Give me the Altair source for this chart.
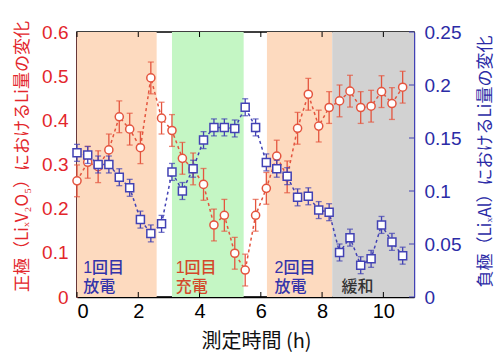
import altair as alt
import pandas as pd

# ---- data ----
time_h = [0.0, 0.35, 0.69, 1.04, 1.38, 1.72, 2.07, 2.41, 2.76, 3.1, 3.44, 3.79,
          4.13, 4.47, 4.81, 5.15, 5.49, 5.83, 6.18, 6.52, 6.86, 7.2, 7.55, 7.89,
          8.23, 8.57, 8.91, 9.26, 9.6, 9.94, 10.28, 10.63]
cathode = [0.263, 0.305, 0.295, 0.333, 0.408, 0.380, 0.338, 0.496, 0.405, 0.377, 0.314, 0.290,
           0.255, 0.163, 0.185, 0.099, 0.061, 0.185, 0.246, 0.319, 0.272, 0.382, 0.459, 0.387,
           0.429, 0.444, 0.466, 0.429, 0.432, 0.465, 0.438, 0.475]
anode = [0.136, 0.134, 0.125, 0.125, 0.113, 0.103, 0.073, 0.060, 0.069, 0.118, 0.100, 0.121,
         0.148, 0.160, 0.160, 0.159, 0.179, 0.160, 0.127, 0.121, 0.114, 0.094, 0.095, 0.082,
         0.080, 0.042, 0.056, 0.030, 0.036, 0.068, 0.052, 0.039]
cathode_err = 0.036
anode_err = 0.008

band_start = [0.0, 3.1, 6.2, 8.33]
band_end = [2.6, 5.44, 8.33, 11.0]
band_kind = ["放電", "充電", "放電", "緩和"]

label_t = [0.2, 0.2, 3.22, 3.22, 6.45, 6.45, 8.63]
label_v = [0.066, 0.022, 0.066, 0.022, 0.066, 0.022, 0.022]
label_text = ["1回目", "放電", "1回目", "充電", "2回目", "放電", "緩和"]
label_kind = ["放電", "放電", "充電", "充電", "放電", "放電", "緩和"]

x_ticks = [0, 2, 4, 6, 8, 10]
left_ticks = [0, 0.1, 0.2, 0.3, 0.4, 0.5, 0.6]
right_ticks = [0, 0.05, 0.1, 0.15, 0.2, 0.25]

W, H = 337, 265
RED = "#e3262b"
RED_M = "#e4553f"
BLUE = "#2b2ba6"
BLUE_M = "#4242b4"
FONT = "Liberation Sans"
JP = "Noto Sans CJK JP"
MIX = "Liberation Sans, Noto Sans CJK JP"

df = pd.DataFrame({"t": time_h, "c": cathode, "a": anode})
df["c_lo"] = df["c"] - cathode_err
df["c_hi"] = df["c"] + cathode_err
df["a_lo"] = df["a"] - anode_err
df["a_hi"] = df["a"] + anode_err

bands = pd.DataFrame({"s": band_start, "e": band_end, "k": band_kind})
labels = pd.DataFrame({"t": label_t, "v": label_v, "txt": label_text, "k": label_kind})
xt = pd.DataFrame({"t": x_ticks})
rt = pd.DataFrame({"v": right_ticks})

xscale = alt.Scale(domain=[0, 11], nice=False, zero=False)
lscale = alt.Scale(domain=[0, 0.6], nice=False)
rscale = alt.Scale(domain=[0, 0.25], nice=False)

x_axis = alt.Axis(values=x_ticks, ticks=False, domainColor="black", domainWidth=1.5,
                  labelFontSize=20, labelFont=FONT, labelColor="black", labelPadding=4,
                  grid=False, title="測定時間 (h)", titleFont=JP, titleFontSize=20,
                  titleFontWeight="normal", titleColor="#111", titleX=179, titleY=44,
                  titleBaseline="middle", titleAlign="center")
yl_axis = alt.Axis(values=left_ticks, ticks=False, domainColor=RED, domainWidth=1.5,
                   labelFontSize=19, labelFont=FONT, labelColor=RED, labelPadding=9,
                   labelExpr="datum.value == 0 ? '0' : format(datum.value, '.1f')",
                   grid=False, title="正極（LiₓV₂O₅）におけるLi量の変化", titleFont=JP,
                   titleFontSize=17, titleFontWeight="normal", titleColor=RED,
                   titleAngle=270, titleX=-55, titleY=124, titleBaseline="middle",
                   titleAlign="center")
yr_axis = alt.Axis(values=right_ticks, ticks=False, domainColor=BLUE_M, domainWidth=1.5,
                   labelFontSize=19, labelFont=FONT, labelColor=BLUE, labelPadding=10,
                   labelExpr="datum.value == 0 ? '0' : format(datum.value, '')",
                   grid=False, title="負極（LiₓAl）におけるLi量の変化", titleFont=JP,
                   titleFontSize=17, titleFontWeight="normal", titleColor=BLUE,
                   titleAngle=270, titleX=71, titleY=129, titleBaseline="middle",
                   titleAlign="center", orient="right")

X = lambda f: alt.X(f, type="quantitative", scale=xscale, axis=x_axis)

band_layer = alt.Chart(bands).mark_rect().encode(
    x=X("s"), x2="e",
    y=alt.value(0), y2=alt.value(H),
    color=alt.Color("k:N", scale=alt.Scale(domain=["放電", "充電", "緩和"],
                                           range=["#fddabf", "#c4f6c4", "#d2d2d2"]),
                    legend=None),
)

xtick_bottom = alt.Chart(xt).mark_rule(color="black", strokeWidth=1).encode(
    x=X("t"), y=alt.value(H), y2=alt.value(H - 5))
xtick_top = alt.Chart(xt).mark_rule(color="black", strokeWidth=1).encode(
    x=X("t"), y=alt.value(0), y2=alt.value(5))

YL = lambda f: alt.Y(f, type="quantitative", scale=lscale, axis=yl_axis)
YR = lambda f: alt.Y(f, type="quantitative", scale=rscale, axis=yr_axis)

base = alt.Chart(df)
red_line = base.mark_line(color=RED_M, strokeDash=[3, 3], strokeWidth=1.5).encode(
    x=X("t"), y=YL("c"))
red_err = base.mark_rule(color=RED_M, strokeWidth=1.3).encode(
    x=X("t"), y=YL("c_lo"), y2="c_hi")
red_cap_lo = base.mark_tick(color=RED_M, orient="horizontal", size=6, thickness=1.3).encode(
    x=X("t"), y=YL("c_lo"))
red_cap_hi = base.mark_tick(color=RED_M, orient="horizontal", size=6, thickness=1.3).encode(
    x=X("t"), y=YL("c_hi"))
red_pts = base.mark_point(shape="circle", size=66, filled=True, fill="white",
                          stroke=RED_M, strokeWidth=1.5, opacity=1).encode(
    x=X("t"), y=YL("c"))

text_layer = alt.Chart(labels).mark_text(font=MIX, fontSize=16, fontWeight=500,
                                         align="left", baseline="middle").encode(
    x=X("t"), y=YL("v"), text="txt:N",
    color=alt.Color("k:N", scale=alt.Scale(domain=["放電", "充電", "緩和"],
                                           range=["#3333aa", "#d4482a", "#333333"]),
                    legend=None),
)

left = alt.layer(band_layer, xtick_bottom, xtick_top, red_err, red_cap_lo, red_cap_hi,
                 red_line, red_pts, text_layer).resolve_scale(color="independent")

rtick = alt.Chart(rt).mark_rule(color=BLUE_M, strokeWidth=1).encode(
    y=YR("v"), x=alt.value(W), x2=alt.value(W - 5))
blue_line = base.mark_line(color=BLUE_M, strokeDash=[3, 3], strokeWidth=1.5).encode(
    x=X("t"), y=YR("a"))
blue_err = base.mark_rule(color=BLUE_M, strokeWidth=1.3).encode(
    x=X("t"), y=YR("a_lo"), y2="a_hi")
blue_cap_lo = base.mark_tick(color=BLUE_M, orient="horizontal", size=6, thickness=1.3).encode(
    x=X("t"), y=YR("a_lo"))
blue_cap_hi = base.mark_tick(color=BLUE_M, orient="horizontal", size=6, thickness=1.3).encode(
    x=X("t"), y=YR("a_hi"))
blue_pts = base.mark_point(shape="square", size=64, filled=True, fill="white",
                           stroke=BLUE_M, strokeWidth=1.5, opacity=1).encode(
    x=X("t"), y=YR("a"))

right = alt.layer(rtick, blue_err, blue_cap_lo, blue_cap_hi, blue_line, blue_pts)

chart = alt.layer(left, right).resolve_scale(y="independent", color="independent").properties(
    width=W, height=H,
    padding={"left": 77, "top": 32, "right": 86, "bottom": 55},
    autosize=alt.AutoSizeParams(type="none"),
    background="white",
).configure_view(stroke="black", strokeWidth=1.5)

chart.save("out.html", embed_options={"renderer": "svg", "actions": False})
